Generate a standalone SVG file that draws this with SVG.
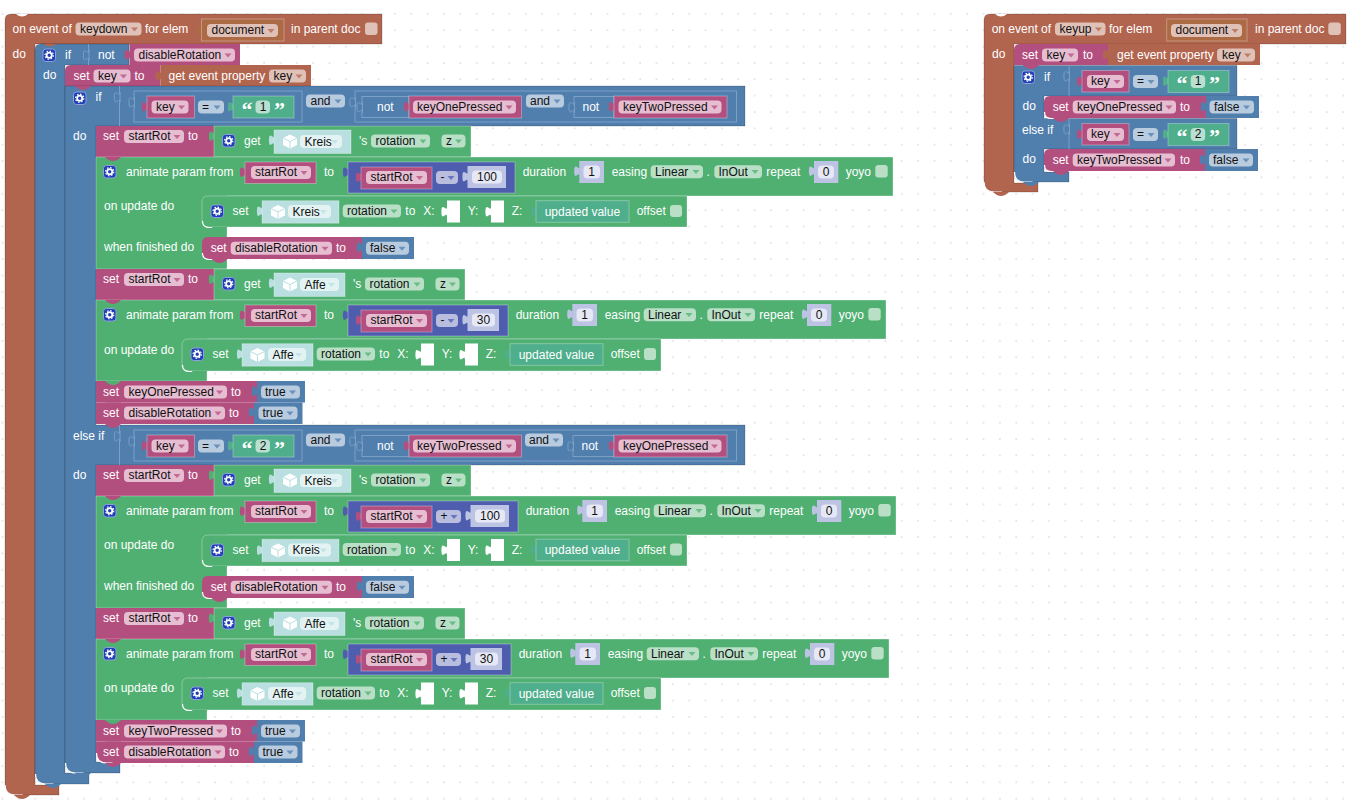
<svg xmlns="http://www.w3.org/2000/svg" width="1351" height="801" viewBox="0 0 1351 801">
<style>
text{font:12px "Liberation Sans",Arial,sans-serif;fill:#fff}
.d{fill:#111}.m{text-anchor:middle}
.q{font:bold 22px "Liberation Serif","Times New Roman",serif;fill:#fff}
.br{fill:#b1654f}.bl{fill:#507fae}.pk{fill:#b34f7f}.gr{fill:#50b072}.in{fill:#4f5dae}.te{fill:#4fae8c}.nu{fill:#bcc3e3}.ob{fill:#b9dfe0}.dc{fill:#ad6b45}
.s{stroke:rgba(0,0,0,.18);stroke-width:1}
.l{stroke:rgba(255,255,255,.3);stroke-width:1}
.fbr,.fbl,.fpk,.fgr,.fte,.fin,.fnu,.fob{height:13px;rx:4px}
.fbr{fill:#e0c1b8}.fbl{fill:#b9cbdf}.fpk{fill:#e6bdd1}.fgr{fill:#b9dfc7}.fte{fill:#b9dfd1}.fin{fill:#b9bedf}.fnu{fill:#e6e9f5}.fob{fill:#e3f3f3}
.o{fill:none;stroke:#7ba0c6;stroke-width:1}
.hl{fill:none;stroke:#fff;stroke-width:1.2}
.hole{fill:#fff}
#v{opacity:.75}
</style>
<defs>
<pattern id="dots" x="1.5" y="12.85" width="16.35" height="16.35" patternUnits="userSpaceOnUse"><circle cx="1" cy="1" r=".85" fill="#d6d6d6"/></pattern>
<path id="v" d="M0 0h7l-3.5 4z"/>
<path id="t" d="M.5 0c0 7 -5.6 -5.6 -5.6 5.25s5.6 -1.75 5.6 5.25Z"/>
<path id="b" d="M-8 0q4 4 8 4t8-4z"/>
<g id="gear"><rect x=".5" y=".5" width="12.5" height="12.5" rx="3" fill="#1f3fb5" stroke="#8ea0dc"/><circle cx="6.7" cy="6.7" r="2.6" fill="none" stroke="#fff" stroke-width="1.8"/><circle cx="6.7" cy="6.7" r="4.1" fill="none" stroke="#fff" stroke-width="1.2" stroke-dasharray="1.6 1.6"/></g>
<g id="cube"><path d="M7 0L14 3.5V10.5L7 14L0 10.5V3.5Z" fill="#fff"/><path d="M0 3.5L7 7L14 3.5M7 7V14" fill="none" stroke="#b9dfe0"/></g>
<path id="hole" d="M5 0H18V22H5V16.5c0 -7 -5.6 5.6 -5.6 -5.25s5.6 1.75 5.6 -5.25Z"/>
</defs>
<rect width="1351" height="801" fill="#fff"/>
<rect width="1351" height="801" fill="url(#dots)"/>

<g id="keydown-event">
<path class="br s" d="M11 14H382V44H35V785H59V795H15q-10 0-10-10V20q0-6 6-6Z"/>
<path d="M16 14q6 5 12 0z" fill="#fff"/>
<path class="hl" d="M5 785q0 10 10 10h8"/>
<use href="#b" x="22" y="795" class="br"/>
<text x="12.5" y="33">on event of</text>
<rect class="fbr" x="75.5" y="22.5" width="66"/><text class="d" x="80" y="33">keydown</text><use href="#v" x="131" y="27.5" class="br"/>
<text x="145" y="33">for elem</text>
<use href="#t" x="201.5" y="24" class="dc"/>
<rect class="dc l" x="201.5" y="19" width="82.5" height="22"/>
<rect class="fbr" x="207" y="24" width="71"/><text class="d" x="211.5" y="34">document</text><use href="#v" x="267.5" y="29" class="br"/>
<text x="291" y="33">in parent doc</text>
<rect x="365" y="22.5" width="12.5" height="12.5" rx="3" fill="#e0c1b8"/>
<text x="12.5" y="58">do</text>
</g>

<g id="if-disable-rotation">
<path class="bl s" d="M41 44H129V65H65V773H89V784H45q-10 0-10-10V50q0-6 6-6Z"/>
<path d="M44 44q6 5 12 0z" fill="#b1654f"/>
<path class="hl" d="M35.5 774q0 10 10 10h8"/>
<use href="#b" x="53" y="784" class="bl"/>
<use href="#gear" x="42.5" y="48.5"/>
<text x="65" y="59">if</text>
<path class="o" d="M88.5 44V65"/>
<use href="#t" x="88.5" y="50" class="bl" stroke="#7ba0c6"/>
<text x="98" y="59">not</text>
<use href="#t" x="129.5" y="49.5" class="pk"/>
<rect class="pk" x="129.5" y="44" width="110.5" height="21"/>
<rect class="fpk" x="134" y="48.5" width="101"/><text class="d" x="138.5" y="59">disableRotation</text><use href="#v" x="224.5" y="53.5" class="pk"/>
<text x="43" y="79">do</text>
</g>

<g id="set-key-1">
<path class="pk" d="M71 65H160.5V86H65V71q0-6 6-6Z"/>
<text x="73.5" y="80">set</text>
<rect class="fpk" x="93.5" y="69.5" width="37"/><text class="d" x="98" y="80">key</text><use href="#v" x="120" y="74.5" class="pk"/>
<text x="134.5" y="80">to</text>
<use href="#t" x="160.5" y="70.5" class="br"/>
<rect class="br" x="160.5" y="65" width="150.5" height="21"/>
<text x="168.5" y="80">get event property</text>
<rect class="fbr" x="269" y="69.5" width="37"/><text class="d" x="273.5" y="80">key</text><use href="#v" x="295.5" y="74.5" class="br"/>
</g>

<g id="if-branches">
<path class="bl s" d="M65 86H745V126H96V425H745V465H96V762H120V773H75q-10 0-10-10Z"/>
<path class="hl" d="M65.5 763q0 10 10 10h8"/>
<use href="#b" x="83" y="773" class="bl"/>
<use href="#b" x="83" y="86" class="pk"/>
<use href="#gear" x="73" y="91.5"/>
</g>

<g id="branch-one">
<text x="95.5" y="101">if</text>
<text x="73" y="140">do</text>
<path class="o" d="M119.5 86V126"/><use href="#t" x="119.5" y="92" class="bl" stroke="#7ba0c6"/>
<rect class="o" x="134" y="91" width="168" height="31"/><use href="#t" x="134" y="97" class="bl" stroke="#7ba0c6"/>
<use href="#t" x="147" y="101.5" class="pk"/><rect class="pk l" x="147" y="96" width="47.5" height="22"/>
<rect class="fpk" x="151.5" y="100.500" width="37"/><text class="d" x="156" y="111">key</text><use href="#v" x="178" y="105.500" class="pk"/>
<rect class="fbl" x="198" y="100.500" width="26"/><text class="d" x="202" y="111">=</text><use href="#v" x="213.5" y="105.500" class="bl"/>
<use href="#t" x="233" y="101.5" class="te"/><rect class="te l" x="233" y="96" width="61" height="22"/>
<text class="q" x="241.5" y="117">“</text><rect class="fte" x="255.5" y="100.500" width="14.5"/><text class="d m" x="263" y="111">1</text><text class="q" x="274" y="117">”</text>
<rect class="fbl" x="306" y="94.5" width="39"/><text class="d" x="310.5" y="105">and</text><use href="#v" x="334.5" y="99.5" class="bl"/>
<rect class="o" x="355" y="91" width="381.5" height="31"/><use href="#t" x="355" y="97" class="bl" stroke="#7ba0c6"/>
<rect class="o" x="362" y="96.5" width="47" height="21"/><use href="#t" x="362" y="102" class="bl" stroke="#7ba0c6"/>
<text x="377" y="111">not</text>
<use href="#t" x="409" y="101.5" class="pk"/><rect class="pk l" x="409" y="96" width="112.5" height="22"/>
<rect class="fpk" x="413" y="100.5" width="103"/><text class="d" x="417" y="111">keyOnePressed</text><use href="#v" x="505.5" y="105.5" class="pk"/>
<rect class="fbl" x="526" y="94.5" width="38"/><text class="d" x="530" y="105">and</text><use href="#v" x="553.5" y="99.5" class="bl"/>
<rect class="o" x="574" y="96.5" width="40" height="21"/><use href="#t" x="574" y="102" class="bl" stroke="#7ba0c6"/>
<text x="582.5" y="111">not</text>
<use href="#t" x="614" y="101.5" class="pk"/><rect class="pk l" x="614" y="96" width="113" height="22"/>
<rect class="fpk" x="618.5" y="100.5" width="103"/><text class="d" x="623" y="111">keyTwoPressed</text><use href="#v" x="711" y="105.5" class="pk"/>

<g id="set-startrot-kreis-1">
<path class="pk" d="M96 126H214V157H96Z"/>
<text x="103" y="140">set</text>
<rect class="fpk" x="124" y="130" width="60"/><text class="d" x="128.500" y="140">startRot</text><use href="#v" x="173.500" y="135" class="pk"/>
<text x="188" y="140">to</text>
<use href="#t" x="214" y="131" class="gr"/><rect class="gr l" x="214" y="126" width="257" height="31"/>
<use href="#gear" x="222" y="134"/><text x="244" y="145">get</text>
<use href="#t" x="274" y="135" class="ob"/><rect class="ob l" x="274" y="130" width="77" height="23.500"/>
<use href="#cube" x="283" y="134.500"/>
<rect class="fob" x="300" y="135" width="42"/><text class="d" x="304.500" y="145.500">Kreis</text><use href="#v" x="331" y="140" class="ob"/>
<text x="359" y="145">'s</text>
<rect class="fgr" x="371" y="134.500" width="59"/><text class="d" x="375.500" y="145">rotation</text><use href="#v" x="419.500" y="139.500" class="gr"/>
<rect class="fgr" x="441.500" y="134.500" width="24"/><text class="d" x="446" y="145">z</text><use href="#v" x="455" y="139.500" class="gr"/>
</g>

<g id="animate-kreis-1">
<path class="gr l" d="M96 157H893V196H227V269H96Z"/>
<use href="#gear" x="103" y="165"/>
<text x="126" y="176">animate param from</text>
<use href="#t" x="245" y="167" class="pk"/><rect class="pk l" x="245" y="162" width="71" height="21.500"/>
<rect class="fpk" x="251" y="166" width="60"/><text class="d" x="255" y="176">startRot</text><use href="#v" x="300.500" y="171" class="pk"/>
<text x="324" y="176">to</text>
<use href="#t" x="348" y="167" class="in"/><rect class="in l" x="348" y="162" width="167" height="31"/>
<use href="#t" x="361" y="172" class="pk"/><rect class="pk l" x="361" y="167" width="71" height="22"/>
<rect class="fpk" x="366" y="171" width="61"/><text class="d" x="370.500" y="181">startRot</text><use href="#v" x="416" y="176" class="pk"/>
<rect class="fin" x="436" y="171" width="22"/><text class="d" x="440.500" y="181">-</text><use href="#v" x="447.500" y="176" class="in"/>
<use href="#t" x="467.500" y="171.500" class="nu"/><rect class="nu" x="467.500" y="166" width="38.500" height="22"/>
<rect class="fnu" x="472" y="170.500" width="30"/><text class="d m" x="487" y="181">100</text>
<g>
<text x="522.700" y="176">duration</text>
<use href="#t" x="579.300" y="166" class="nu"/><rect class="nu" x="579.300" y="161" width="24.700" height="22"/>
<rect class="fnu" x="583.500" y="165.500" width="16.500"/><text class="d m" x="591.700" y="176">1</text>
<text x="611.700" y="176">easing</text>
<rect class="fgr" x="650.700" y="165.300" width="52.300"/><text class="d" x="655" y="175.800">Linear</text><use href="#v" x="692.500" y="170" class="gr"/>
<text x="706.500" y="176">.</text>
<rect class="fgr" x="714.300" y="165.300" width="47.700"/><text class="d" x="718.500" y="175.800">InOut</text><use href="#v" x="751.500" y="170" class="gr"/>
<text x="766.300" y="176">repeat</text>
<use href="#t" x="814" y="166" class="nu"/><rect class="nu" x="814" y="161" width="24.300" height="22"/>
<rect class="fnu" x="818" y="165.500" width="16"/><text class="d m" x="826" y="176">0</text>
<text x="845.700" y="176">yoyo</text>
<rect x="875.300" y="165" width="12.400" height="12.400" rx="3" fill="#b9dfc7"/>
</g>
<text x="104" y="210">on update do</text>
<path class="gr l" d="M208 196H687V227H208q-6 0-6-6V202q0-6 6-6Z"/>
<path class="hl" d="M202.500 221q0 6.500 7 6.500h9"/>
<use href="#b" x="219.500" y="227" class="gr"/>
<use href="#gear" x="210.500" y="204.500"/>
<text x="232.500" y="215">set</text>
<use href="#t" x="262" y="206" class="ob"/><rect class="ob l" x="262" y="200.700" width="77" height="22.500"/>
<use href="#cube" x="271" y="205"/>
<rect class="fob" x="288" y="205" width="43"/><text class="d" x="292.500" y="215.500">Kreis</text><use href="#v" x="320" y="210" class="ob"/>
<rect class="fgr" x="342.700" y="204.500" width="58.300"/><text class="d" x="347" y="215">rotation</text><use href="#v" x="390.500" y="209.500" class="gr"/>
<g>
<text x="405.300" y="215">to</text>
<text x="423.300" y="215">X:</text>
<use href="#hole" x="442" y="200.500" class="hole"/>
<text x="467.700" y="215">Y:</text>
<use href="#hole" x="486" y="200.500" class="hole"/>
<text x="511.700" y="215">Z:</text>
<use href="#t" x="536" y="206" class="te"/><rect class="te l" x="536" y="200.700" width="93" height="21.600"/>
<text x="544.700" y="215.500">updated value</text>
<text x="636.700" y="215">offset</text>
<rect x="670" y="205" width="12" height="12" rx="3" fill="#b9dfc7"/>
</g>
<text x="104" y="251">when finished do</text>
<path class="pk" d="M208 237H362V259H208q-6 0-6-6V243q0-6 6-6Z"/>
<path class="hl" d="M202.500 253q0 6.500 7 6.500h9"/>
<use href="#b" x="219.500" y="259" class="pk"/>
<text x="210.700" y="252">set</text>
<rect class="fpk" x="230.700" y="241.700" width="101.300"/><text class="d" x="235" y="252.200">disableRotation</text><use href="#v" x="321.500" y="246.700" class="pk"/>
<text x="336" y="252">to</text>
<use href="#t" x="362" y="242" class="bl"/><rect class="bl" x="362" y="237" width="52" height="22"/>
<rect class="fbl" x="366" y="241.700" width="43"/><text class="d" x="370" y="252.200">false</text><use href="#v" x="398.500" y="246.700" class="bl"/>
<use href="#b" x="113" y="157" class="pk"/>
</g>

<g id="set-startrot-affe-1">
<path class="pk" d="M96 269H214V300H96Z"/>
<text x="103" y="283">set</text>
<rect class="fpk" x="124" y="273" width="60"/><text class="d" x="128.500" y="283">startRot</text><use href="#v" x="173.500" y="278" class="pk"/>
<text x="188" y="283">to</text>
<use href="#t" x="214" y="274" class="gr"/><rect class="gr l" x="214" y="269" width="251" height="31"/>
<use href="#gear" x="222" y="277"/><text x="244" y="288">get</text>
<use href="#t" x="274" y="278" class="ob"/><rect class="ob l" x="274" y="273" width="71" height="23.500"/>
<use href="#cube" x="283" y="277.500"/>
<rect class="fob" x="300" y="278" width="39"/><text class="d" x="304.500" y="288.500">Affe</text><use href="#v" x="328" y="283" class="ob"/>
<text x="353" y="288">'s</text>
<rect class="fgr" x="365" y="277.500" width="59"/><text class="d" x="369.500" y="288">rotation</text><use href="#v" x="413.500" y="282.500" class="gr"/>
<rect class="fgr" x="435.500" y="277.500" width="24"/><text class="d" x="440" y="288">z</text><use href="#v" x="449" y="282.500" class="gr"/>
</g>

<g id="animate-affe-1">
<path class="gr l" d="M96 300H886V339H207V381H96Z"/>
<use href="#gear" x="103" y="308"/>
<text x="126" y="319">animate param from</text>
<use href="#t" x="245" y="310" class="pk"/><rect class="pk l" x="245" y="305" width="71" height="21.500"/>
<rect class="fpk" x="251" y="309" width="60"/><text class="d" x="255" y="319">startRot</text><use href="#v" x="300.500" y="314" class="pk"/>
<text x="324" y="319">to</text>
<use href="#t" x="348" y="310" class="in"/><rect class="in l" x="348" y="305" width="160" height="31"/>
<use href="#t" x="361" y="315" class="pk"/><rect class="pk l" x="361" y="310" width="71" height="22"/>
<rect class="fpk" x="366" y="314" width="61"/><text class="d" x="370.500" y="324">startRot</text><use href="#v" x="416" y="319" class="pk"/>
<rect class="fin" x="436" y="314" width="22"/><text class="d" x="440.500" y="324">-</text><use href="#v" x="447.500" y="319" class="in"/>
<use href="#t" x="467.500" y="314.500" class="nu"/><rect class="nu" x="467.500" y="309" width="31.500" height="22"/>
<rect class="fnu" x="472" y="313.500" width="23"/><text class="d m" x="483.500" y="324">30</text>
<g transform="translate(-7 143)">
<text x="522.700" y="176">duration</text>
<use href="#t" x="579.300" y="166" class="nu"/><rect class="nu" x="579.300" y="161" width="24.700" height="22"/>
<rect class="fnu" x="583.500" y="165.500" width="16.500"/><text class="d m" x="591.700" y="176">1</text>
<text x="611.700" y="176">easing</text>
<rect class="fgr" x="650.700" y="165.300" width="52.300"/><text class="d" x="655" y="175.800">Linear</text><use href="#v" x="692.500" y="170" class="gr"/>
<text x="706.500" y="176">.</text>
<rect class="fgr" x="714.300" y="165.300" width="47.700"/><text class="d" x="718.500" y="175.800">InOut</text><use href="#v" x="751.500" y="170" class="gr"/>
<text x="766.300" y="176">repeat</text>
<use href="#t" x="814" y="166" class="nu"/><rect class="nu" x="814" y="161" width="24.300" height="22"/>
<rect class="fnu" x="818" y="165.500" width="16"/><text class="d m" x="826" y="176">0</text>
<text x="845.700" y="176">yoyo</text>
<rect x="875.300" y="165" width="12.400" height="12.400" rx="3" fill="#b9dfc7"/>
</g>
<text x="104" y="354">on update do</text>
<path class="gr l" d="M188 339H661V371H188q-6 0-6-6V345q0-6 6-6Z"/>
<path class="hl" d="M182.500 365q0 6.500 7 6.500h9"/>
<use href="#b" x="199.500" y="371" class="gr"/>
<use href="#gear" x="190.500" y="347.500"/>
<text x="212.500" y="358">set</text>
<use href="#t" x="242" y="349" class="ob"/><rect class="ob l" x="242" y="343.700" width="71" height="22.500"/>
<use href="#cube" x="250.500" y="348"/>
<rect class="fob" x="268" y="348" width="38"/><text class="d" x="272.500" y="358.500">Affe</text><use href="#v" x="295" y="353" class="ob"/>
<rect class="fgr" x="316.700" y="347.500" width="58.300"/><text class="d" x="321" y="358">rotation</text><use href="#v" x="364.500" y="352.500" class="gr"/>
<g transform="translate(-26 143)">
<text x="405.300" y="215">to</text>
<text x="423.300" y="215">X:</text>
<use href="#hole" x="442" y="200.500" class="hole"/>
<text x="467.700" y="215">Y:</text>
<use href="#hole" x="486" y="200.500" class="hole"/>
<text x="511.700" y="215">Z:</text>
<use href="#t" x="536" y="206" class="te"/><rect class="te l" x="536" y="200.700" width="93" height="21.600"/>
<text x="544.700" y="215.500">updated value</text>
<text x="636.700" y="215">offset</text>
<rect x="670" y="205" width="12" height="12" rx="3" fill="#b9dfc7"/>
</g>
<use href="#b" x="113" y="300" class="pk"/>
</g>

<g id="set-flags-1">
<rect class="pk" x="96" y="381" width="161" height="21.500"/>
<text x="103" y="396">set</text>
<rect class="fpk" x="124" y="385.500" width="103"/><text class="d" x="128.500" y="396">keyOnePressed</text><use href="#v" x="216" y="390.500" class="pk"/>
<text x="231" y="396">to</text>
<use href="#t" x="257" y="386" class="bl"/><rect class="bl" x="257" y="381" width="48" height="21.500"/>
<rect class="fbl" x="261" y="385.500" width="39"/><text class="d" x="265" y="396">true</text><use href="#v" x="289" y="390.500" class="bl"/>
<rect class="pk" x="96" y="402.500" width="158" height="21.500"/>
<text x="103" y="417">set</text>
<rect class="fpk" x="124" y="406.500" width="101"/><text class="d" x="128.500" y="417">disableRotation</text><use href="#v" x="214.500" y="411.500" class="pk"/>
<text x="229" y="417">to</text>
<use href="#t" x="254" y="407" class="bl"/><rect class="bl" x="254" y="402.500" width="48.500" height="21.500"/>
<rect class="fbl" x="258.500" y="406.500" width="39"/><text class="d" x="262.500" y="417">true</text><use href="#v" x="286.500" y="411.500" class="bl"/>
<use href="#b" x="113" y="381" class="gr"/>
<use href="#b" x="113" y="402.500" class="pk"/>
<use href="#b" x="113" y="424" class="pk"/>
</g>
</g>

<g id="branch-two" transform="translate(0 339)">
<text x="73" y="101">else if</text>
<text x="73" y="140">do</text>
<path class="o" d="M119.500 86V126"/><use href="#t" x="119.500" y="92" class="bl" stroke="#7ba0c6"/>
<rect class="o" x="134" y="91" width="168" height="31"/><use href="#t" x="134" y="97" class="bl" stroke="#7ba0c6"/>
<use href="#t" x="147" y="101.500" class="pk"/><rect class="pk l" x="147" y="96" width="47.500" height="22"/>
<rect class="fpk" x="151.500" y="100.500" width="37"/><text class="d" x="156" y="111">key</text><use href="#v" x="178" y="105.500" class="pk"/>
<rect class="fbl" x="198" y="100.500" width="26"/><text class="d" x="202" y="111">=</text><use href="#v" x="213.500" y="105.500" class="bl"/>
<use href="#t" x="233" y="101.500" class="te"/><rect class="te l" x="233" y="96" width="61" height="22"/>
<text class="q" x="241.500" y="117">“</text><rect class="fte" x="255.500" y="100.500" width="14.500"/><text class="d m" x="263" y="111">2</text><text class="q" x="274" y="117">”</text>
<rect class="fbl" x="306" y="94.500" width="39"/><text class="d" x="310.500" y="105">and</text><use href="#v" x="334.500" y="99.500" class="bl"/>
<rect class="o" x="355" y="91" width="381.500" height="31"/><use href="#t" x="355" y="97" class="bl" stroke="#7ba0c6"/>
<rect class="o" x="362" y="96.500" width="47" height="21"/><use href="#t" x="362" y="102" class="bl" stroke="#7ba0c6"/>
<text x="377" y="111">not</text>
<use href="#t" x="409" y="101.500" class="pk"/><rect class="pk l" x="409" y="96" width="112.500" height="22"/>
<rect class="fpk" x="413" y="100.500" width="103"/><text class="d" x="417" y="111">keyTwoPressed</text><use href="#v" x="505.500" y="105.500" class="pk"/>
<rect class="fbl" x="525" y="94.500" width="38"/><text class="d" x="529" y="105">and</text><use href="#v" x="552.500" y="99.500" class="bl"/>
<rect class="o" x="573" y="96.500" width="41" height="21"/><use href="#t" x="573" y="102" class="bl" stroke="#7ba0c6"/>
<text x="581.500" y="111">not</text>
<use href="#t" x="614" y="101.500" class="pk"/><rect class="pk l" x="614" y="96" width="113" height="22"/>
<rect class="fpk" x="618.500" y="100.500" width="103"/><text class="d" x="623" y="111">keyOnePressed</text><use href="#v" x="711" y="105.500" class="pk"/>

<g id="set-startrot-kreis-2">
<path class="pk" d="M96 126H214V157H96Z"/>
<text x="103" y="140">set</text>
<rect class="fpk" x="124" y="130" width="60"/><text class="d" x="128.500" y="140">startRot</text><use href="#v" x="173.500" y="135" class="pk"/>
<text x="188" y="140">to</text>
<use href="#t" x="214" y="131" class="gr"/><rect class="gr l" x="214" y="126" width="257" height="31"/>
<use href="#gear" x="222" y="134"/><text x="244" y="145">get</text>
<use href="#t" x="274" y="135" class="ob"/><rect class="ob l" x="274" y="130" width="77" height="23.500"/>
<use href="#cube" x="283" y="134.500"/>
<rect class="fob" x="300" y="135" width="42"/><text class="d" x="304.500" y="145.500">Kreis</text><use href="#v" x="331" y="140" class="ob"/>
<text x="359" y="145">'s</text>
<rect class="fgr" x="371" y="134.500" width="59"/><text class="d" x="375.500" y="145">rotation</text><use href="#v" x="419.500" y="139.500" class="gr"/>
<rect class="fgr" x="441.500" y="134.500" width="24"/><text class="d" x="446" y="145">z</text><use href="#v" x="455" y="139.500" class="gr"/>
</g>

<g id="animate-kreis-2">
<path class="gr l" d="M96 157H896V196H227V269H96Z"/>
<use href="#gear" x="103" y="165"/>
<text x="126" y="175.500">animate param from</text>
<use href="#t" x="245" y="167" class="pk"/><rect class="pk l" x="245" y="162" width="71" height="21.500"/>
<rect class="fpk" x="251" y="166" width="60"/><text class="d" x="255" y="176">startRot</text><use href="#v" x="300.500" y="171" class="pk"/>
<text x="324" y="175.500">to</text>
<use href="#t" x="348" y="167" class="in"/><rect class="in l" x="348" y="162" width="170" height="31"/>
<use href="#t" x="361" y="172" class="pk"/><rect class="pk l" x="361" y="167" width="71" height="22"/>
<rect class="fpk" x="366" y="171" width="61"/><text class="d" x="370.500" y="181">startRot</text><use href="#v" x="416" y="176" class="pk"/>
<rect class="fin" x="436" y="171" width="25"/><text class="d" x="440.500" y="181">+</text><use href="#v" x="450.500" y="176" class="in"/>
<use href="#t" x="470.500" y="171.500" class="nu"/><rect class="nu" x="470.500" y="166" width="38.500" height="22"/>
<rect class="fnu" x="475" y="170.500" width="30"/><text class="d m" x="490" y="181">100</text>
<g transform="translate(3 0)">
<text x="522.700" y="175.500">duration</text>
<use href="#t" x="579.300" y="166" class="nu"/><rect class="nu" x="579.300" y="161" width="24.700" height="22"/>
<rect class="fnu" x="583.500" y="165.500" width="16.500"/><text class="d m" x="591.700" y="176">1</text>
<text x="611.700" y="175.500">easing</text>
<rect class="fgr" x="650.700" y="165.300" width="52.300"/><text class="d" x="655" y="175.800">Linear</text><use href="#v" x="692.500" y="170" class="gr"/>
<text x="706.500" y="175.500">.</text>
<rect class="fgr" x="714.300" y="165.300" width="47.700"/><text class="d" x="718.500" y="175.800">InOut</text><use href="#v" x="751.500" y="170" class="gr"/>
<text x="766.300" y="175.500">repeat</text>
<use href="#t" x="814" y="166" class="nu"/><rect class="nu" x="814" y="161" width="24.300" height="22"/>
<rect class="fnu" x="818" y="165.500" width="16"/><text class="d m" x="826" y="176">0</text>
<text x="845.700" y="175.500">yoyo</text>
<rect x="875.300" y="165" width="12.400" height="12.400" rx="3" fill="#b9dfc7"/>
</g>
<text x="104" y="210">on update do</text>
<path class="gr l" d="M208 196H687V227H208q-6 0-6-6V202q0-6 6-6Z"/>
<path class="hl" d="M202.500 221q0 6.500 7 6.500h9"/>
<use href="#b" x="219.500" y="227" class="gr"/>
<use href="#gear" x="210.500" y="204.500"/>
<text x="232.500" y="214.500">set</text>
<use href="#t" x="262" y="206" class="ob"/><rect class="ob l" x="262" y="200.200" width="77" height="22.500"/>
<use href="#cube" x="271" y="204.500"/>
<rect class="fob" x="288" y="204.500" width="43"/><text class="d" x="292.500" y="215">Kreis</text><use href="#v" x="320" y="209.500" class="ob"/>
<rect class="fgr" x="342.700" y="204" width="58.300"/><text class="d" x="347" y="214.500">rotation</text><use href="#v" x="390.500" y="209" class="gr"/>
<g transform="translate(0 -.5)">
<text x="405.300" y="215">to</text>
<text x="423.300" y="215">X:</text>
<use href="#hole" x="442" y="200.500" class="hole"/>
<text x="467.700" y="215">Y:</text>
<use href="#hole" x="486" y="200.500" class="hole"/>
<text x="511.700" y="215">Z:</text>
<use href="#t" x="536" y="206" class="te"/><rect class="te l" x="536" y="200.700" width="93" height="21.600"/>
<text x="544.700" y="215.500">updated value</text>
<text x="636.700" y="215">offset</text>
<rect x="670" y="205" width="12" height="12" rx="3" fill="#b9dfc7"/>
</g>
<text x="104" y="251">when finished do</text>
<path class="pk" d="M208 237H362V259H208q-6 0-6-6V243q0-6 6-6Z"/>
<path class="hl" d="M202.500 253q0 6.500 7 6.500h9"/>
<use href="#b" x="219.500" y="259" class="pk"/>
<text x="210.700" y="252">set</text>
<rect class="fpk" x="230.700" y="241.700" width="101.300"/><text class="d" x="235" y="252.200">disableRotation</text><use href="#v" x="321.500" y="246.700" class="pk"/>
<text x="336" y="252">to</text>
<use href="#t" x="362" y="242" class="bl"/><rect class="bl" x="362" y="237" width="52" height="22"/>
<rect class="fbl" x="366" y="241.700" width="43"/><text class="d" x="370" y="252.200">false</text><use href="#v" x="398.500" y="246.700" class="bl"/>
<use href="#b" x="113" y="157" class="pk"/>
</g>

<g id="set-startrot-affe-2">
<path class="pk" d="M96 269H214V300H96Z"/>
<text x="103" y="283">set</text>
<rect class="fpk" x="124" y="273" width="60"/><text class="d" x="128.500" y="283">startRot</text><use href="#v" x="173.500" y="278" class="pk"/>
<text x="188" y="283">to</text>
<use href="#t" x="214" y="274" class="gr"/><rect class="gr l" x="214" y="269" width="251" height="31"/>
<use href="#gear" x="222" y="277"/><text x="244" y="288">get</text>
<use href="#t" x="274" y="278" class="ob"/><rect class="ob l" x="274" y="273" width="71" height="23.500"/>
<use href="#cube" x="283" y="277.500"/>
<rect class="fob" x="300" y="278" width="39"/><text class="d" x="304.500" y="288.500">Affe</text><use href="#v" x="328" y="283" class="ob"/>
<text x="353" y="288">'s</text>
<rect class="fgr" x="365" y="277.500" width="59"/><text class="d" x="369.500" y="288">rotation</text><use href="#v" x="413.500" y="282.500" class="gr"/>
<rect class="fgr" x="435.500" y="277.500" width="24"/><text class="d" x="440" y="288">z</text><use href="#v" x="449" y="282.500" class="gr"/>
</g>

<g id="animate-affe-2">
<path class="gr l" d="M96 300H889V339H207V381H96Z"/>
<use href="#gear" x="103" y="308"/>
<text x="126" y="319">animate param from</text>
<use href="#t" x="245" y="310" class="pk"/><rect class="pk l" x="245" y="305" width="71" height="21.500"/>
<rect class="fpk" x="251" y="309" width="60"/><text class="d" x="255" y="319">startRot</text><use href="#v" x="300.500" y="314" class="pk"/>
<text x="324" y="319">to</text>
<use href="#t" x="348" y="310" class="in"/><rect class="in l" x="348" y="305" width="163" height="31"/>
<use href="#t" x="361" y="315" class="pk"/><rect class="pk l" x="361" y="310" width="71" height="22"/>
<rect class="fpk" x="366" y="314" width="61"/><text class="d" x="370.500" y="324">startRot</text><use href="#v" x="416" y="319" class="pk"/>
<rect class="fin" x="436" y="314" width="25"/><text class="d" x="440.500" y="324">+</text><use href="#v" x="450.500" y="319" class="in"/>
<use href="#t" x="470.500" y="314.500" class="nu"/><rect class="nu" x="470.500" y="309" width="31.500" height="22"/>
<rect class="fnu" x="475" y="313.500" width="23"/><text class="d m" x="486.500" y="324">30</text>
<g transform="translate(-4 143)">
<text x="522.700" y="176">duration</text>
<use href="#t" x="579.300" y="166" class="nu"/><rect class="nu" x="579.300" y="161" width="24.700" height="22"/>
<rect class="fnu" x="583.500" y="165.500" width="16.500"/><text class="d m" x="591.700" y="176">1</text>
<text x="611.700" y="176">easing</text>
<rect class="fgr" x="650.700" y="165.300" width="52.300"/><text class="d" x="655" y="175.800">Linear</text><use href="#v" x="692.500" y="170" class="gr"/>
<text x="706.500" y="176">.</text>
<rect class="fgr" x="714.300" y="165.300" width="47.700"/><text class="d" x="718.500" y="175.800">InOut</text><use href="#v" x="751.500" y="170" class="gr"/>
<text x="766.300" y="176">repeat</text>
<use href="#t" x="814" y="166" class="nu"/><rect class="nu" x="814" y="161" width="24.300" height="22"/>
<rect class="fnu" x="818" y="165.500" width="16"/><text class="d m" x="826" y="176">0</text>
<text x="845.700" y="176">yoyo</text>
<rect x="875.300" y="165" width="12.400" height="12.400" rx="3" fill="#b9dfc7"/>
</g>
<text x="104" y="353">on update do</text>
<path class="gr l" d="M188 339H661V371H188q-6 0-6-6V345q0-6 6-6Z"/>
<path class="hl" d="M182.500 365q0 6.500 7 6.500h9"/>
<use href="#b" x="199.500" y="371" class="gr"/>
<use href="#gear" x="190.500" y="347.500"/>
<text x="212.500" y="358">set</text>
<use href="#t" x="242" y="349" class="ob"/><rect class="ob l" x="242" y="343.700" width="71" height="22.500"/>
<use href="#cube" x="250.500" y="348"/>
<rect class="fob" x="268" y="348" width="38"/><text class="d" x="272.500" y="358.500">Affe</text><use href="#v" x="295" y="353" class="ob"/>
<rect class="fgr" x="316.700" y="347.500" width="58.300"/><text class="d" x="321" y="358">rotation</text><use href="#v" x="364.500" y="352.500" class="gr"/>
<g transform="translate(-26 143)">
<text x="405.300" y="215">to</text>
<text x="423.300" y="215">X:</text>
<use href="#hole" x="442" y="200.500" class="hole"/>
<text x="467.700" y="215">Y:</text>
<use href="#hole" x="486" y="200.500" class="hole"/>
<text x="511.700" y="215">Z:</text>
<use href="#t" x="536" y="206" class="te"/><rect class="te l" x="536" y="200.700" width="93" height="21.600"/>
<text x="544.700" y="215.500">updated value</text>
<text x="636.700" y="215">offset</text>
<rect x="670" y="205" width="12" height="12" rx="3" fill="#b9dfc7"/>
</g>
<use href="#b" x="113" y="300" class="pk"/>
</g>

<g id="set-flags-2">
<rect class="pk" x="96" y="381" width="161" height="21.500"/>
<text x="103" y="396">set</text>
<rect class="fpk" x="124" y="385.500" width="103"/><text class="d" x="128.500" y="396">keyTwoPressed</text><use href="#v" x="216" y="390.500" class="pk"/>
<text x="231" y="396">to</text>
<use href="#t" x="257" y="386" class="bl"/><rect class="bl" x="257" y="381" width="48" height="21.500"/>
<rect class="fbl" x="261" y="385.500" width="39"/><text class="d" x="265" y="396">true</text><use href="#v" x="289" y="390.500" class="bl"/>
<path class="pk" d="M96 402.500H254V424H106q-10 0-10-10Z"/>
<path class="hl" d="M96.500 414q0 10 10 10h6"/>
<text x="103" y="417">set</text>
<rect class="fpk" x="124" y="406.500" width="101"/><text class="d" x="128.500" y="417">disableRotation</text><use href="#v" x="214.500" y="411.500" class="pk"/>
<text x="229" y="417">to</text>
<use href="#t" x="254" y="407" class="bl"/><rect class="bl" x="254" y="402.500" width="48.500" height="21.500"/>
<rect class="fbl" x="258.500" y="406.500" width="39"/><text class="d" x="262.500" y="417">true</text><use href="#v" x="286.500" y="411.500" class="bl"/>
<use href="#b" x="113" y="381" class="gr"/>
<use href="#b" x="113" y="402.500" class="pk"/>
<use href="#b" x="113" y="424" class="pk"/>
</g>
</g>

<g id="keyup-event">
<path class="br s" d="M990 14H1346V44H1014V183H1038V192H994q-10 0-10-10V20q0-6 6-6Z"/>
<path d="M995 14q6 5 12 0z" fill="#fff"/>
<path class="hl" d="M984 182q0 10 10 10h8"/>
<use href="#b" x="1001" y="192" class="br"/>
<text x="991.700" y="33">on event of</text>
<rect class="fbr" x="1055" y="22.500" width="50.500"/><text class="d" x="1059.500" y="33">keyup</text><use href="#v" x="1095" y="27.500" class="br"/>
<text x="1109" y="33">for elem</text>
<use href="#t" x="1166.700" y="24" class="dc"/>
<rect class="dc l" x="1166.700" y="19" width="80.300" height="22"/>
<rect class="fbr" x="1171" y="24" width="71"/><text class="d" x="1175.500" y="34">document</text><use href="#v" x="1231.500" y="29" class="br"/>
<text x="1255" y="33">in parent doc</text>
<rect x="1328.300" y="22.500" width="12.500" height="12.500" rx="3" fill="#e0c1b8"/>
<text x="992" y="58">do</text>
</g>

<g id="set-key-2">
<path class="pk" d="M1020 44H1108V65H1014V50q0-6 6-6Z"/>
<use href="#b" x="1031" y="65" class="pk"/>
<text x="1022" y="59">set</text>
<rect class="fpk" x="1042" y="48.500" width="36"/><text class="d" x="1046.500" y="59">key</text><use href="#v" x="1067.500" y="53.500" class="pk"/>
<text x="1083" y="59">to</text>
<use href="#t" x="1108" y="49.500" class="br"/>
<rect class="br" x="1108" y="44" width="152" height="21"/>
<text x="1117" y="59">get event property</text>
<rect class="fbr" x="1217" y="48.500" width="38"/><text class="d" x="1222" y="59">key</text><use href="#v" x="1244" y="53.500" class="br"/>
</g>

<g id="if-keyup">
<path class="bl s" d="M1014 65.500H1237V96H1044V118.500H1237V149H1044V172H1069V182H1024q-10 0-10-10Z"/>
<path class="hl" d="M1014.500 172q0 10 10 10h8"/>
<use href="#b" x="1031" y="182" class="bl"/>
<use href="#b" x="1031" y="65" class="pk"/>
<use href="#gear" x="1021.500" y="70.500"/>
<text x="1044" y="81">if</text>
<path class="o" d="M1069 65.500V96M1069 118.500V149"/>
<use href="#t" x="1069" y="71" class="bl" stroke="#7ba0c6"/>
<use href="#t" x="1069" y="124" class="bl" stroke="#7ba0c6"/>
<use href="#t" x="1082" y="76" class="pk"/><rect class="pk l" x="1082" y="70.500" width="47" height="21.500"/>
<rect class="fpk" x="1087" y="75" width="37"/><text class="d" x="1091" y="85">key</text><use href="#v" x="1113.500" y="80" class="pk"/>
<rect class="fbl" x="1133" y="75" width="25"/><text class="d" x="1137" y="85">=</text><use href="#v" x="1147.500" y="80" class="bl"/>
<use href="#t" x="1168" y="76" class="te"/><rect class="te l" x="1168" y="70.500" width="61" height="22"/>
<text class="q" x="1176.500" y="91">“</text><rect class="fte" x="1190.700" y="75" width="14.500"/><text class="d m" x="1198" y="85">1</text><text class="q" x="1209" y="91">”</text>
<text x="1022.500" y="110">do</text>
<path class="pk" d="M1050 96H1206V118H1050q-6 0-6-6V102q0-6 6-6Z"/>
<path class="hl" d="M1044.500 112q0 6.500 7 6.500h9"/>
<use href="#b" x="1061" y="118" class="pk"/>
<text x="1052.700" y="111">set</text>
<rect class="fpk" x="1072.700" y="100.500" width="103.300"/><text class="d" x="1077" y="111">keyOnePressed</text><use href="#v" x="1165.500" y="105.500" class="pk"/>
<text x="1180" y="111">to</text>
<use href="#t" x="1206" y="101.500" class="bl"/><rect class="bl" x="1206" y="96" width="53" height="22"/>
<rect class="fbl" x="1209.500" y="100.500" width="44.500"/><text class="d" x="1214" y="111">false</text><use href="#v" x="1243" y="105.500" class="bl"/>
<text x="1022" y="134">else if</text>
<use href="#t" x="1082" y="129" class="pk"/><rect class="pk l" x="1082" y="123.500" width="47" height="21.500"/>
<rect class="fpk" x="1087" y="128" width="37"/><text class="d" x="1091" y="138">key</text><use href="#v" x="1113.500" y="133" class="pk"/>
<rect class="fbl" x="1133" y="128" width="25"/><text class="d" x="1137" y="138">=</text><use href="#v" x="1147.500" y="133" class="bl"/>
<use href="#t" x="1168" y="129" class="te"/><rect class="te l" x="1168" y="123.500" width="61" height="22"/>
<text class="q" x="1176.500" y="144">“</text><rect class="fte" x="1190.700" y="128" width="14.500"/><text class="d m" x="1198" y="138">2</text><text class="q" x="1209" y="144">”</text>
<text x="1022.500" y="163">do</text>
<path class="pk" d="M1050 149H1205V171H1050q-6 0-6-6V155q0-6 6-6Z"/>
<path class="hl" d="M1044.500 165q0 6.500 7 6.500h9"/>
<use href="#b" x="1061" y="171" class="pk"/>
<text x="1052.700" y="164">set</text>
<rect class="fpk" x="1072.700" y="153.500" width="102.300"/><text class="d" x="1077" y="164">keyTwoPressed</text><use href="#v" x="1164.500" y="158.500" class="pk"/>
<text x="1180" y="164">to</text>
<use href="#t" x="1205" y="154.500" class="bl"/><rect class="bl" x="1205" y="149" width="53" height="22"/>
<rect class="fbl" x="1209" y="153.500" width="44"/><text class="d" x="1213" y="164">false</text><use href="#v" x="1242.500" y="158.500" class="bl"/>
</g>
</svg>
